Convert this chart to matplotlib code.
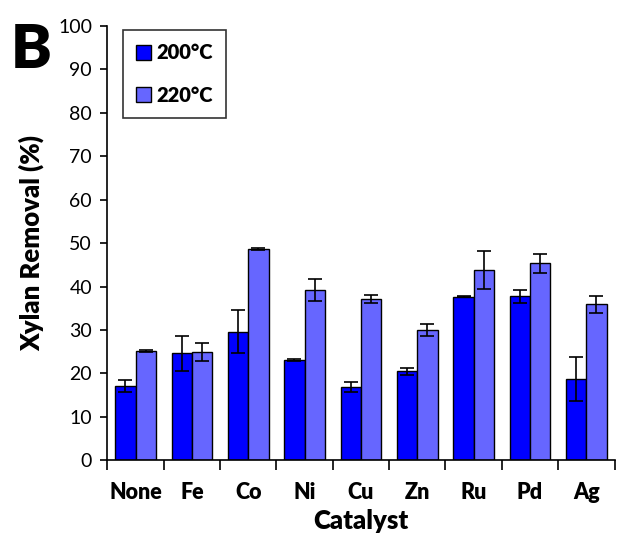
import numpy as np
import matplotlib
matplotlib.use("Agg")
import matplotlib.pyplot as plt

plt.rcParams['font.family'] = ['Lato', 'DejaVu Sans']

# data
catalysts = ['None', 'Fe', 'Co', 'Ni', 'Cu', 'Zn', 'Ru', 'Pd', 'Ag']
removal_200 = [17.1, 24.6, 29.6, 23.0, 16.9, 20.5, 37.6, 37.7, 18.7]
err_200 = [1.4, 4.0, 5.0, 0.2, 1.1, 0.8, 0.1, 1.6, 5.0]
removal_220 = [25.2, 24.9, 48.6, 39.2, 37.2, 30.0, 43.8, 45.3, 35.9]
err_220 = [0.2, 2.0, 0.3, 2.5, 0.9, 1.4, 4.4, 2.2, 2.0]

color_200 = '#0000FF'
color_220 = '#6666FF'

fig = plt.figure(figsize=(6.17, 5.42), dpi=100)
ax = fig.add_axes([0.174, 0.151, 0.822, 0.801])

x = np.arange(len(catalysts))
w = 0.36
ax.bar(x - w / 2, removal_200, w, color=color_200, edgecolor='black', linewidth=1.0,
       yerr=err_200, capsize=5, error_kw=dict(elinewidth=1.2, capthick=1.2, ecolor='black'),
       label='200°C')
ax.bar(x + w / 2, removal_220, w, color=color_220, edgecolor='black', linewidth=1.0,
       yerr=err_220, capsize=5, error_kw=dict(elinewidth=1.2, capthick=1.2, ecolor='black'),
       label='220°C')

ax.set_xlim(-0.5, len(catalysts) - 0.5)
ax.set_ylim(0, 100)
ax.set_yticks(np.arange(0, 101, 10))
ax.tick_params(axis='y', labelsize=14, direction='out', length=5, width=1.2, pad=6)

# ticks at category boundaries, labels centred under groups
ax.set_xticks(np.arange(-0.5, len(catalysts), 1))
ax.set_xticklabels([])
ax.set_xticks(x, minor=True)
ax.set_xticklabels(catalysts, minor=True, fontsize=15.5, fontweight='heavy')
ax.tick_params(axis='x', which='major', direction='out', length=7, width=1.2)
ax.tick_params(axis='x', which='minor', length=0, pad=16)

for side in ['top', 'right']:
    ax.spines[side].set_visible(False)
for side in ['left', 'bottom']:
    ax.spines[side].set_linewidth(1.2)

ax.set_ylabel('Xylan Removal (%)', fontsize=18.5, fontweight='heavy', labelpad=10)
ax.set_xlabel('Catalyst', fontsize=18.5, fontweight='heavy', labelpad=4)

leg = ax.legend(loc='upper left', bbox_to_anchor=(0.03, 0.99),
                prop={'weight': 'heavy', 'size': 14.5}, frameon=True, fancybox=False,
                edgecolor='black', handlelength=0.75, handleheight=0.75,
                handletextpad=0.3, labelspacing=1.15, borderpad=0.65, borderaxespad=0.0)
leg.get_frame().set_linewidth(1.2)

fig.text(0.017, 0.96, 'B', fontsize=44, fontweight='heavy', va='top', ha='left')

fig.savefig('out.png', dpi=100)
